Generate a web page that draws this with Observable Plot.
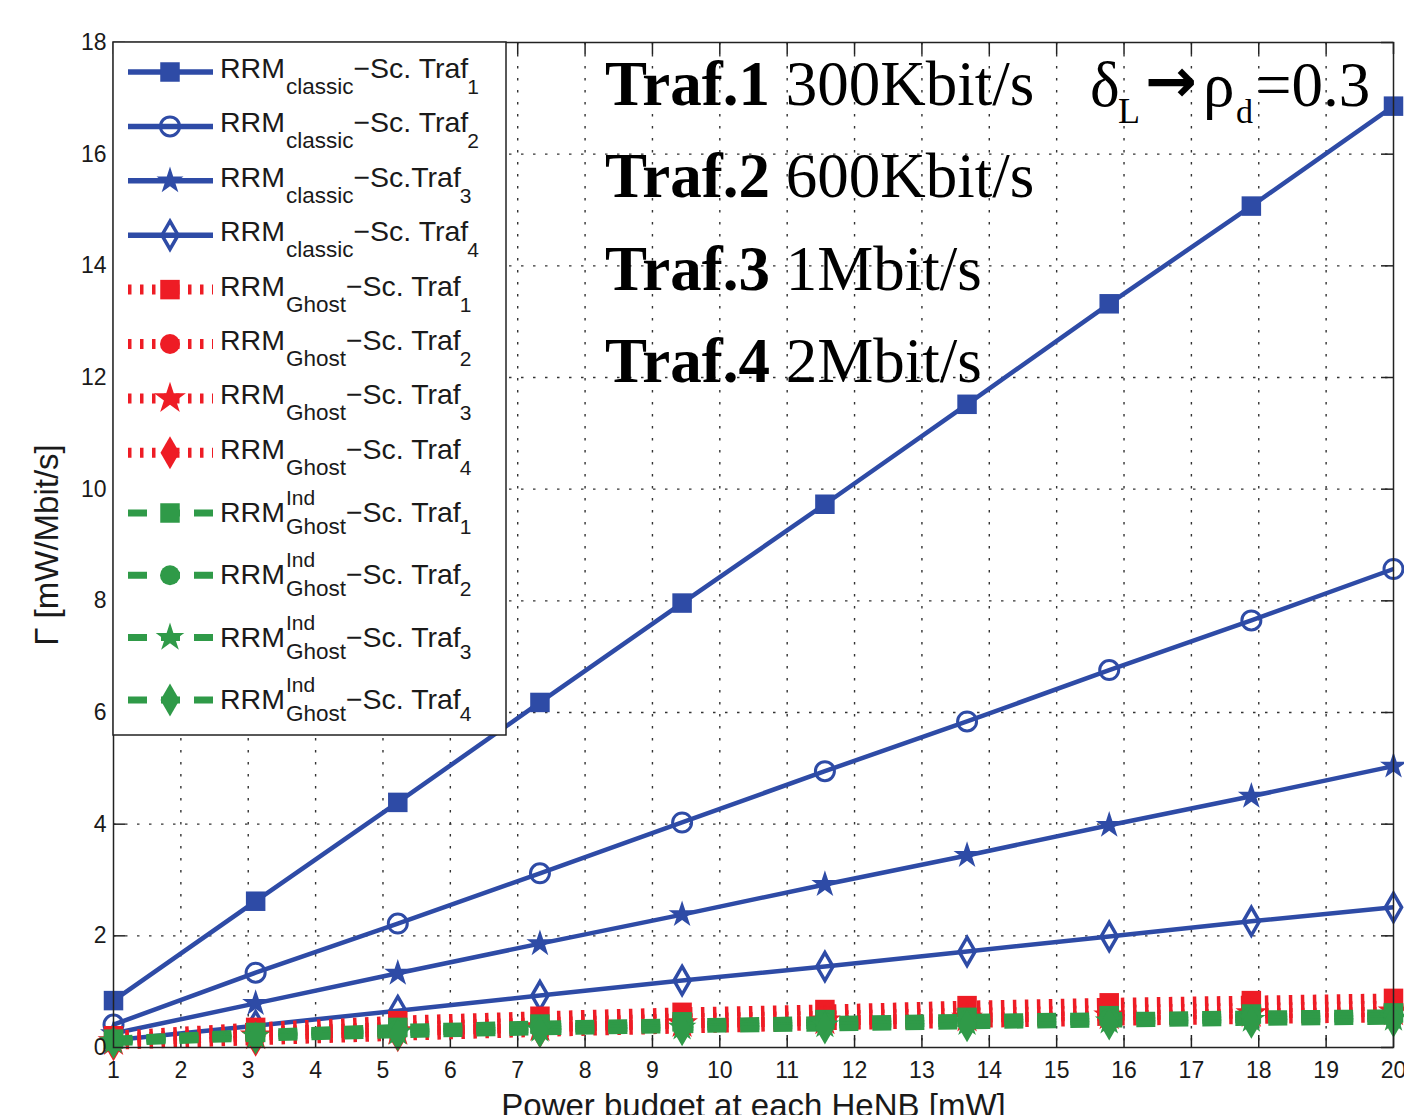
<!DOCTYPE html>
<html><head><meta charset="utf-8">
<script src="https://cdn.jsdelivr.net/npm/d3@7"></script>
<script src="https://cdn.jsdelivr.net/npm/@observablehq/plot@0.6"></script>
<style>
html,body{margin:0;padding:0;background:#fff;}
#wrap{position:relative;width:1404px;height:1115px;overflow:hidden;background:#fff;}
#wrap svg{position:absolute;left:0;top:0;}
</style></head><body><div id="wrap"></div>
<script>
// ---- data ----
const power = [1, 3.11, 5.22, 7.33, 9.44, 11.56, 13.67, 15.78, 17.89, 20];
const classicTraf1 = [0.84, 2.62, 4.39, 6.18, 7.96, 9.73, 11.52, 13.32, 15.07, 16.86];
const classicTraf2 = [0.41, 1.34, 2.22, 3.12, 4.03, 4.95, 5.84, 6.76, 7.65, 8.57];
const classicTraf3 = [0.25, 0.79, 1.33, 1.86, 2.38, 2.92, 3.44, 3.98, 4.50, 5.04];
const classicTraf4 = [0.13, 0.39, 0.66, 0.93, 1.20, 1.45, 1.72, 1.99, 2.26, 2.51];
const ghostTraf1 = [0.21, 0.36, 0.48, 0.56, 0.63, 0.68, 0.75, 0.80, 0.84, 0.88];
const ghostTraf2 = [0.16, 0.28, 0.37, 0.45, 0.52, 0.57, 0.62, 0.67, 0.71, 0.75];
const ghostTraf3 = [0.11, 0.21, 0.29, 0.36, 0.43, 0.48, 0.53, 0.57, 0.61, 0.64];
const ghostTraf4 = [0.05, 0.13, 0.21, 0.28, 0.34, 0.40, 0.44, 0.48, 0.51, 0.54];
const indTraf1 = [0.15, 0.27, 0.36, 0.42, 0.46, 0.50, 0.54, 0.57, 0.60, 0.62];
const indTraf2 = [0.13, 0.24, 0.32, 0.37, 0.41, 0.45, 0.49, 0.52, 0.55, 0.57];
const indTraf3 = [0.11, 0.20, 0.27, 0.32, 0.36, 0.40, 0.44, 0.47, 0.50, 0.52];
const indTraf4 = [0.09, 0.17, 0.23, 0.28, 0.32, 0.35, 0.39, 0.42, 0.45, 0.47];
const xTicks = [1,2,3,4,5,6,7,8,9,10,11,12,13,14,15,16,17,18,19,20];
const yTicks = [0,2,4,6,8,10,12,14,16,18];
const trafLabels = ["Traf.1", "Traf.2", "Traf.3", "Traf.4"];
const trafRates = ["300Kbit/s", "600Kbit/s", "1Mbit/s", "2Mbit/s"];
const xLabel = "Power budget at each HeNB [mW]";
const yLabel = "Γ [mW/Mbit/s]";

// ---- styles ----
const BLUE = "#2e4ba6", RED = "#ee1c25", GREEN = "#2f9a48";
const groups = {
  classic: {color: BLUE, width: 4.5, dash: null},
  ghost: {color: RED, width: 10, dash: "3.5,8.5"},
  ind: {color: GREEN, width: 7, dash: "19,14"}
};
const markerStyles = {
  classic: [
    {symbol: "square", r: 11, fill: BLUE, stroke: "none", sw: 0},
    {symbol: "circle", r: 9.5, fill: "none", stroke: BLUE, sw: 3},
    {symbol: "star", r: 8.5, fill: BLUE, stroke: "none", sw: 0},
    {symbol: "diamond", r: 8.5, fill: "none", stroke: BLUE, sw: 3.5}
  ],
  ghost: [
    {symbol: "square", r: 11, fill: RED, stroke: "none", sw: 0},
    {symbol: "circle", r: 10, fill: RED, stroke: "none", sw: 0},
    {symbol: "star", r: 10, fill: RED, stroke: "none", sw: 0},
    {symbol: "diamond", r: 10, fill: RED, stroke: "none", sw: 0}
  ],
  ind: [
    {symbol: "square", r: 11, fill: GREEN, stroke: "none", sw: 0},
    {symbol: "circle", r: 10, fill: GREEN, stroke: "none", sw: 0},
    {symbol: "star", r: 9, fill: GREEN, stroke: "none", sw: 0},
    {symbol: "diamond", r: 10, fill: GREEN, stroke: "none", sw: 0}
  ]
};
const series = [
  {g: "classic", k: 0, v: classicTraf1}, {g: "classic", k: 1, v: classicTraf2},
  {g: "classic", k: 2, v: classicTraf3}, {g: "classic", k: 3, v: classicTraf4},
  {g: "ghost", k: 0, v: ghostTraf1}, {g: "ghost", k: 1, v: ghostTraf2},
  {g: "ghost", k: 2, v: ghostTraf3}, {g: "ghost", k: 3, v: ghostTraf4},
  {g: "ind", k: 0, v: indTraf1}, {g: "ind", k: 1, v: indTraf2},
  {g: "ind", k: 2, v: indTraf3}, {g: "ind", k: 3, v: indTraf4}
];

const W = 1404, H = 1115, mL = 113, mR = 11, mT = 42, mB = 68;
const plotW = W - mL - mR, plotH = H - mT - mB, TK = 12;
const FONT = "'Liberation Sans', Arial, Helvetica, sans-serif";
const TXT = "#1a1a1a";

const dotted = {stroke: "#333", strokeWidth: 1.4, strokeDasharray: "2.5,9.5", strokeOpacity: 1};
const tickStyle = {stroke: "#222", strokeWidth: 1.5, strokeOpacity: 1};

const marks = [
  Plot.ruleX(xTicks.slice(1, -1), {x: d => d, ...dotted}),
  Plot.ruleY(yTicks.slice(1, -1), {y: d => d, ...dotted}),
  Plot.ruleX(xTicks, {x: d => d, ...tickStyle, insetTop: plotH - TK}),
  Plot.ruleX(xTicks, {x: d => d, ...tickStyle, insetBottom: plotH - TK}),
  Plot.ruleY(yTicks, {y: d => d, ...tickStyle, insetRight: plotW - TK}),
  Plot.ruleY(yTicks, {y: d => d, ...tickStyle, insetLeft: plotW - TK})
];
for (const gname of ["classic", "ghost", "ind"]) {
  const G = groups[gname];
  for (const s of series.filter(s => s.g === gname)) {
    const pts = power.map((x, i) => ({x, y: s.v[i]}));
    marks.push(Plot.line(pts, {x: "x", y: "y", stroke: G.color, strokeWidth: G.width,
      strokeDasharray: G.dash, strokeLinejoin: "round", strokeLinecap: "butt"}));
  }
  for (const s of series.filter(s => s.g === gname)) {
    const m = markerStyles[gname][s.k];
    const pts = power.map((x, i) => ({x, y: s.v[i]}));
    marks.push(Plot.dot(pts, {x: "x", y: "y", symbol: m.symbol, r: m.r, fill: m.fill,
      stroke: m.stroke, strokeWidth: m.sw}));
  }
}
marks.push(
  Plot.frame({stroke: "#222", strokeWidth: 1.5}),
  Plot.axisX(xTicks, {tickSize: 0, tickPadding: 14, fontSize: 23, fill: TXT, label: null, tickFormat: d => String(d)}),
  Plot.axisY(yTicks, {tickSize: 0, tickPadding: 7, fontSize: 23, fill: TXT, label: null, tickFormat: d => String(d)}),
  Plot.text([xLabel], {text: d => d, frameAnchor: "bottom", dy: 46, lineAnchor: "top", textAnchor: "middle", fontSize: 33, fill: TXT}),
  Plot.text([yLabel], {text: d => d, frameAnchor: "left", dx: -66, rotate: -90, textAnchor: "middle", fontSize: 33, fill: TXT})
);

const chart = Plot.plot({
  width: W, height: H,
  marginLeft: mL, marginRight: mR, marginTop: mT, marginBottom: mB,
  style: {fontFamily: FONT, background: "#fff", overflow: "visible"},
  x: {domain: [1, 20]},
  y: {domain: [0, 18]},
  marks
});
const wrap = document.getElementById("wrap");
wrap.appendChild(chart);

// ---- overlay: annotation + legend ----
const ov = d3.select(wrap).append("svg").attr("width", W).attr("height", H)
  .style("overflow", "hidden");

const SERIF = "'Liberation Serif', 'Times New Roman', Times, serif";
const baselines = [105, 197, 290, 382];
trafLabels.forEach((t, i) => {
  const tx = ov.append("text").attr("x", 605).attr("y", baselines[i])
    .attr("font-family", SERIF).attr("font-size", 63).attr("fill", "#000");
  tx.append("tspan").attr("font-weight", "bold").text(t);
  tx.append("tspan").text(" " + trafRates[i]);
});
const ann = ov.append("g").attr("font-family", SERIF).attr("fill", "#000");
ann.append("text").attr("x", 1090).attr("y", 106).attr("font-size", 63).text("δ");
ann.append("text").attr("x", 1118).attr("y", 123).attr("font-size", 36).text("L");
ann.append("text").attr("x", 1145).attr("y", 102).attr("font-size", 62)
  .attr("font-family", "'DejaVu Sans', sans-serif").attr("font-weight", "bold").text("→");
ann.append("text").attr("x", 1203).attr("y", 106).attr("font-size", 63).text("ρ");
ann.append("text").attr("x", 1236).attr("y", 123).attr("font-size", 34).text("d");
ann.append("text").attr("x", 1256).attr("y", 106).attr("font-size", 63).text("=0.3");

// legend
const leg = ov.append("g");
leg.append("rect").attr("x", 113).attr("y", 42).attr("width", 393).attr("height", 693)
  .attr("fill", "#fff").attr("stroke", "#222").attr("stroke-width", 1.5);
const legendRows = series.map((s, i) => ({...s, cy: i < 8 ? 72 + i * 54.4 : 513 + (i - 8) * 62.3}));
const subName = {classic: "classic", ghost: "Ghost", ind: "Ghost"};
legendRows.forEach(row => {
  const G = groups[row.g];
  const m = markerStyles[row.g][row.k];
  leg.append("line").attr("x1", 128).attr("x2", 213).attr("y1", row.cy).attr("y2", row.cy)
    .attr("stroke", G.color).attr("stroke-width", row.g === "classic" ? 5.5 : G.width)
    .attr("stroke-dasharray", G.dash);
  const sym = {square: d3.symbolSquare, circle: d3.symbolCircle, star: d3.symbolStar, diamond: d3.symbolDiamond}[m.symbol];
  leg.append("path").attr("d", d3.symbol(sym, Math.PI * m.r * m.r)())
    .attr("transform", `translate(170,${row.cy})`)
    .attr("fill", m.fill).attr("stroke", m.stroke).attr("stroke-width", m.sw);
  const base = row.cy + (row.g === "ind" ? 9 : 6);
  const t1 = leg.append("text").attr("x", 220).attr("y", base).attr("font-family", FONT)
    .attr("font-size", 28.5).attr("fill", TXT).text("RRM");
  const w1 = t1.node().getComputedTextLength();
  const subDy = row.g === "ind" ? 12 : 16;
  const t2 = leg.append("text").attr("x", 220 + w1 + 1).attr("y", base + subDy).attr("font-family", FONT)
    .attr("font-size", 22.5).attr("fill", TXT).text(subName[row.g]);
  let w2 = t2.node().getComputedTextLength();
  if (row.g === "ind") {
    const t3 = leg.append("text").attr("x", 220 + w1 + 1).attr("y", base - 17).attr("font-family", FONT)
      .attr("font-size", 21).attr("fill", TXT).text("Ind");
    w2 = Math.max(w2, t3.node().getComputedTextLength());
  }
  const x3 = 220 + w1 + 1 + w2;
  const t4 = leg.append("text").attr("x", x3).attr("y", base).attr("font-family", FONT)
    .attr("font-size", 28.5).attr("fill", TXT)
    .text(row.g === "classic" && row.k === 2 ? "−Sc.Traf" : "−Sc. Traf");
  const w4 = t4.node().getComputedTextLength();
  leg.append("text").attr("x", x3 + w4 - 1).attr("y", base + subDy).attr("font-family", FONT)
    .attr("font-size", 21).attr("fill", TXT).text(String(row.k + 1));
});
</script></body></html>
